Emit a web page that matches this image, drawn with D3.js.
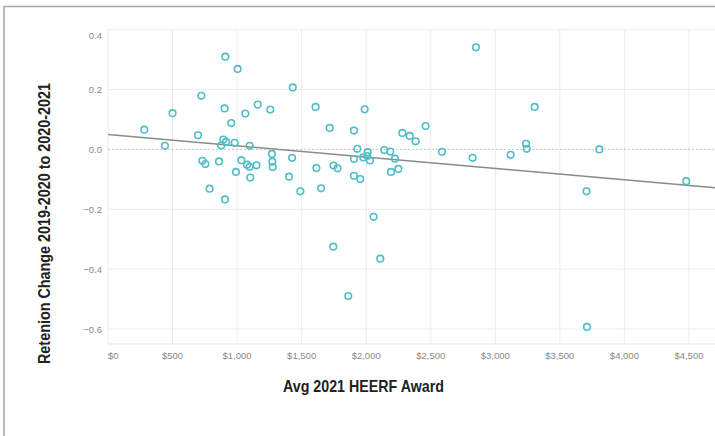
<!DOCTYPE html>
<html>
<head>
<meta charset="utf-8">
<script src="https://cdn.jsdelivr.net/npm/d3@7"></script>
<style>
  body { margin: 0; background: #fff; }
  svg { display: block; }
</style>
</head>
<body>
<div id="chart"></div>
<script>
// avg 2021 HEERF award ($) per school
const award = [281, 441, 500, 723, 697, 909, 1004, 903, 955, 1064, 1160, 1257, 1431, 1608, 1717, 1905,
  893, 877, 914, 981, 1097, 731, 754, 860, 787, 906, 991, 1033, 1077, 1097, 1102, 1150,
  1270, 1273, 1276, 1402, 1426, 1490, 1614, 1650, 1747, 1778, 1905, 1905, 1931, 2850,
  1988, 2011, 1978, 2008, 2029, 1954, 2057, 2140, 2187, 2223, 2192, 2249, 2280, 2337,
  2383, 2460, 2587, 2824, 3119, 3238, 3243, 3305, 3806, 3707, 4479, 1745, 1861, 2109, 3710];
// retention change 2019-2020 to 2020-2021
const retention = [0.066, 0.012, 0.121, 0.179, 0.047, 0.310, 0.269, 0.137, 0.088, 0.120, 0.150, 0.133, 0.207, 0.142, 0.072, 0.063,
  0.033, 0.013, 0.025, 0.022, 0.012, -0.038, -0.049, -0.040, -0.131, -0.167, -0.075, -0.036, -0.051, -0.058, -0.094, -0.053,
  -0.015, -0.041, -0.059, -0.091, -0.028, -0.140, -0.062, -0.130, -0.054, -0.063, -0.032, -0.088, 0.002, 0.341,
  0.134, -0.009, -0.027, -0.022, -0.037, -0.099, -0.225, -0.002, -0.007, -0.031, -0.075, -0.065, 0.055, 0.045,
  0.027, 0.078, -0.008, -0.028, -0.018, 0.019, 0.002, 0.142, 0.000, -0.140, -0.106, -0.325, -0.490, -0.365, -0.593];

const xTicks = [0, 500, 1000, 1500, 2000, 2500, 3000, 3500, 4000, 4500];
const yTicks = [0.4, 0.2, 0.0, -0.2, -0.4, -0.6];
// trend line: intercept and slope
const trendIntercept = 0.05;
const trendSlope = -0.0000378;

const data = award.map((a, i) => ({ x: a, y: retention[i] }));

const width = 715, height = 436;
const plotLeft = 108, plotTop = 29.7, plotBottom = 344;

const svg = d3.select("#chart").append("svg")
    .attr("width", width)
    .attr("height", height);

// outer frame (cut off on right & bottom like the screenshot)
svg.append("rect")
    .attr("x", 4).attr("y", 6.5)
    .attr("width", 760).attr("height", 500)
    .attr("fill", "none")
    .attr("stroke", "#aaa")
    .attr("stroke-width", 1.6);

let xScale = d3.scaleLinear()
    .domain([0, 4750])
    .range([plotLeft, plotLeft + 4750 * 0.1291]);

let yScale = d3.scaleLinear()
    .domain([-0.65, 0.4])
    .range([plotBottom, plotTop]);

const g = svg.append("g");

// grid
g.selectAll(".vgrid").data(xTicks).enter().append("line")
    .attr("x1", d => xScale(d)).attr("x2", d => xScale(d))
    .attr("y1", plotTop).attr("y2", plotBottom)
    .attr("stroke", "#ececec").attr("stroke-width", 1);

g.selectAll(".hgrid").data(yTicks).enter().append("line")
    .attr("x1", plotLeft).attr("x2", width)
    .attr("y1", d => yScale(d)).attr("y2", d => yScale(d))
    .attr("stroke", d => d === 0 ? "none" : "#ececec").attr("stroke-width", 1);

// bottom edge
g.append("line")
    .attr("x1", plotLeft).attr("x2", width)
    .attr("y1", plotBottom).attr("y2", plotBottom)
    .attr("stroke", "#e6e6e6");

// zero line
g.append("line")
    .attr("x1", plotLeft).attr("x2", width)
    .attr("y1", yScale(0)).attr("y2", yScale(0))
    .attr("stroke", "#bbb").attr("stroke-width", 0.8)
    .attr("stroke-dasharray", "2,2");

// tick labels
g.selectAll(".ylab").data(yTicks).enter().append("text")
    .attr("x", plotLeft - 6)
    .attr("y", d => d === 0.4 ? yScale(d) + 9 : yScale(d) + 3.5)
    .attr("text-anchor", "end")
    .style("font", "9.5px 'Liberation Sans', Arial, sans-serif")
    .attr("fill", "#888")
    .text(d => d3.format(".1f")(d));

g.selectAll(".xlab").data(xTicks).enter().append("text")
    .attr("x", d => xScale(d))
    .attr("y", 359)
    .attr("text-anchor", d => d === 0 ? "start" : "middle")
    .style("font", "9.5px 'Liberation Sans', Arial, sans-serif")
    .attr("fill", "#888")
    .text(d => "$" + d3.format(",")(d));

// trend line
const x0 = xScale.domain()[0], x1 = xScale.domain()[1];
g.append("line")
    .attr("x1", xScale(x0)).attr("y1", yScale(trendIntercept + trendSlope * x0))
    .attr("x2", xScale(x1)).attr("y2", yScale(trendIntercept + trendSlope * x1))
    .attr("stroke", "#8a8a8a").attr("stroke-width", 1.5);

// points
g.selectAll(".pt").data(data).enter().append("circle")
    .attr("cx", d => xScale(d.x))
    .attr("cy", d => yScale(d.y))
    .attr("r", 3.3)
    .attr("fill", "none")
    .attr("stroke", "#4fbfc6")
    .attr("stroke-width", 1.6);

// axis titles (condensed look via textLength)
svg.append("text")
    .attr("x", 283).attr("y", 392)
    .attr("textLength", 161)
    .attr("lengthAdjust", "spacingAndGlyphs")
    .style("font", "bold 17px 'Liberation Sans', Arial, sans-serif")
    .attr("fill", "#222")
    .text("Avg 2021 HEERF Award");

svg.append("text")
    .attr("transform", "translate(50,364) rotate(-90)")
    .attr("textLength", 281)
    .attr("lengthAdjust", "spacingAndGlyphs")
    .style("font", "bold 17px 'Liberation Sans', Arial, sans-serif")
    .attr("fill", "#222")
    .text("Retenion Change 2019-2020 to 2020-2021");
</script>
</body>
</html>
